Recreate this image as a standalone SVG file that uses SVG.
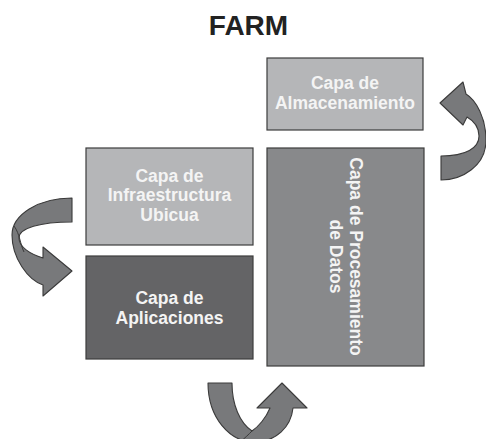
<svg xmlns="http://www.w3.org/2000/svg" width="486" height="439" viewBox="0 0 486 439">
<style>
.box{stroke:#3c3c3c;stroke-width:1.2}
.light{fill:#b5b6b8}
.mid{fill:#88898b}
.dark{fill:#646466}
.lbl{font-family:"Liberation Sans",Arial,sans-serif;font-weight:bold;font-size:17.5px;fill:#f4f4f4;text-anchor:middle}
.title{font-family:"Liberation Sans",Arial,sans-serif;font-weight:bold;font-size:28px;fill:#222;text-anchor:middle}
.arrow{fill:#78797b;stroke:#3a3a3a;stroke-width:1.1;stroke-linejoin:round}
.twist{fill:none;stroke:#3a3a3a;stroke-width:1}
</style>
<rect width="486" height="439" fill="#ffffff"/>
<text class="title" x="248.5" y="35">FARM</text>
<g id="almacenamiento">
<rect class="box light" x="267" y="58" width="156" height="72"/>
<text class="lbl" x="345" y="88.5">Capa de</text>
<text class="lbl" x="345" y="108.5">Almacenamiento</text>
</g>
<g id="procesamiento">
<rect class="box mid" x="267" y="148" width="157" height="218"/>
<text class="lbl" transform="translate(350,256.5) rotate(90)"><tspan x="0" y="0">Capa de Procesamiento</tspan><tspan x="0" y="20">de Datos</tspan></text>
</g>
<g id="infraestructura">
<rect class="box light" x="86" y="148" width="167" height="97"/>
<text class="lbl" x="169.5" y="181.5">Capa de</text>
<text class="lbl" x="169.5" y="201">Infraestructura</text>
<text class="lbl" x="169.5" y="220.5">Ubicua</text>
</g>
<g id="aplicaciones">
<rect class="box dark" x="86" y="256" width="167" height="103"/>
<text class="lbl" x="169.5" y="304">Capa de</text>
<text class="lbl" x="169.5" y="324">Aplicaciones</text>
</g>
<g id="connectors">
<path class="arrow" d="M72,198 C38,198 12,215 12,235 C12,258 28,280 43,285 L43,296 L72,271 L43,247 L43,258 C30,254 19,247 19,238 C19,228 40,222 72,222 Z"/>
<path class="twist" d="M14,226 C20,234 20,244 24,252"/>
<path class="arrow" d="M441,156 L441,180 C462,180 486,166 486,140 C486,118 476,100 466,94 L463,82 L440,103 L463,125 L467,117 C474,121 479,128 479,136 C479,148 466,156 441,156 Z"/>
<path class="arrow" d="M208,383 L232,383 C232,405 240,423 252,431 C258,427 266,418 270,408 L257,408 L282,383 L307,408 L293,408 C291,427 276,442 254,442 C230,442 208,418 208,383 Z"/>
<path class="twist" d="M240,442 C245,438 249,434 252,431"/>
</g>
</svg>
